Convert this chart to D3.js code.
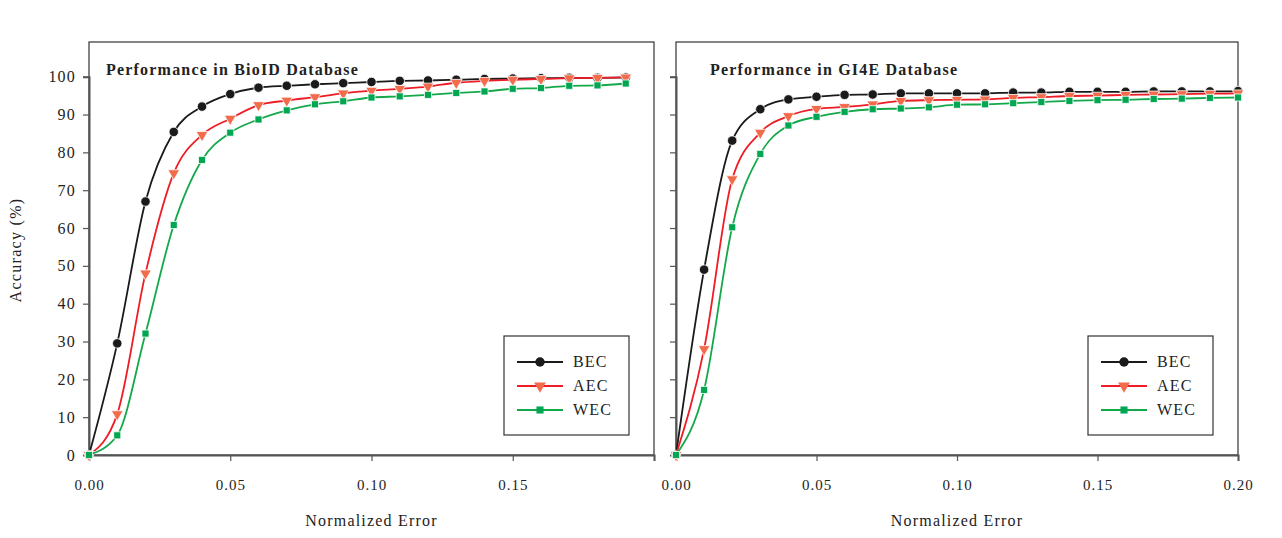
<!DOCTYPE html>
<html><head><meta charset="utf-8">
<script src="https://cdn.jsdelivr.net/npm/d3@7"></script>
<style>
body{margin:0;background:#fff;}
svg text{font-family:"Liberation Serif","DejaVu Serif",serif;}
</style></head>
<body><svg id="c" width="1282" height="538"></svg>
<script>
const errX = [0,0.01,0.02,0.03,0.04,0.05,0.06,0.07,0.08,0.09,0.10,0.11,0.12,0.13,0.14,0.15,0.16,0.17,0.18,0.19,0.20];
const bioBEC = [0,29.5,67.0,85.4,92.1,95.4,97.1,97.6,98.0,98.3,98.6,98.9,99.0,99.2,99.4,99.5,99.6,99.7,99.7,99.8];
const bioAEC = [0,10.8,48.0,74.5,84.6,88.9,92.5,93.7,94.6,95.6,96.3,96.8,97.4,98.4,98.9,99.2,99.4,99.6,99.7,99.8];
const bioWEC = [0,5.2,32.1,60.8,78.0,85.2,88.7,91.1,92.7,93.5,94.5,94.8,95.2,95.7,96.1,96.8,97.0,97.6,97.7,98.2];
const gi4eBEC = [0,49.0,83.1,91.4,94.0,94.7,95.2,95.3,95.6,95.6,95.6,95.6,95.8,95.8,96.0,96.0,96.0,96.1,96.1,96.1,96.2];
const gi4eAEC = [0,28.0,72.9,85.2,89.6,91.5,92.0,92.7,93.6,93.8,93.9,94.0,94.4,94.6,94.9,95.0,95.2,95.3,95.4,95.5,95.6];
const gi4eWEC = [0,17.2,60.2,79.6,87.1,89.4,90.7,91.4,91.6,91.9,92.6,92.7,93.0,93.3,93.6,93.8,93.9,94.1,94.2,94.4,94.5];
const xTicks = [0,0.05,0.10,0.15,0.20];
const yTicks = [0,10,20,30,40,50,60,70,80,90,100];
const seriesNames = ["BEC","AEC","WEC"];
const lineColors = ["#1a1a1a","#ee1c24","#13a84a"];
const markerColors = ["#1a1a1a","#f26b4b","#00a651"];
const markerShapes = [d3.symbolCircle, d3.symbolTriangle, d3.symbolSquare];
const markerSizes = [70,60,50];
const panels = [
  {title:"Performance in BioID Database", data:[bioBEC,bioAEC,bioWEC], x0:89, x1:654, showYLabels:true, xLabelTicks:[0,0.05,0.10,0.15], titleX:106},
  {title:"Performance in GI4E Database", data:[gi4eBEC,gi4eAEC,gi4eWEC], x0:676, x1:1238, showYLabels:false, xLabelTicks:xTicks, titleX:710}
];
const svg = d3.select("#c");
const yTop = 42, yBot = 455;
const y = d3.scaleLinear().domain([0,100]).range([yBot,76.7]);

panels.forEach(p=>{
  const x = d3.scaleLinear().domain([0,0.2]).range([p.x0,p.x1]);
  const g = svg.append("g");
  g.append("rect").attr("x",p.x0).attr("y",yTop).attr("width",p.x1-p.x0).attr("height",yBot-yTop)
    .attr("fill","none").attr("stroke","#333").attr("stroke-width",1.2);
  const ya = g.append("g").attr("transform",`translate(${p.x0},0)`)
    .call(d3.axisLeft(y).tickValues(yTicks).tickSize(6).tickPadding(7).tickFormat(p.showYLabels?d3.format("d"):""));
  ya.select(".domain").attr("stroke","#555").attr("stroke-width",2);
  ya.selectAll(".tick line").attr("stroke","#555").attr("stroke-width",1.2);
  ya.selectAll("text").attr("font-size",16).attr("fill","#222").attr("letter-spacing","1.2px")
    .attr("font-family","Liberation Serif, serif");
  const xa = g.append("g").attr("transform",`translate(0,${yBot})`)
    .call(d3.axisBottom(x).tickValues(xTicks).tickSize(6).tickPadding(18)
      .tickFormat(d=> p.xLabelTicks.includes(d)? d3.format(".2f")(d) : ""));
  xa.select(".domain").attr("stroke","#555").attr("stroke-width",2);
  xa.selectAll(".tick line").attr("stroke","#555").attr("stroke-width",1.2);
  xa.selectAll("text").attr("font-size",15).attr("fill","#222").attr("letter-spacing","1px")
    .attr("font-family","Liberation Serif, serif");
  g.append("text").attr("x",p.titleX).attr("y",75).attr("font-size",16).attr("font-weight","bold")
    .attr("letter-spacing","1.2px").attr("fill","#222").text(p.title);
  g.append("text").attr("x",(p.x0+p.x1)/2).attr("y",526).attr("text-anchor","middle")
    .attr("font-size",16).attr("letter-spacing","1.2px").attr("fill","#222").text("Normalized Error");
  const line = d3.line().x((d,i)=>x(errX[i])).y(d=>y(d)).curve(d3.curveMonotoneX);
  p.data.forEach((vals,si)=>{
    g.append("path").datum(vals).attr("d",line).attr("fill","none")
      .attr("stroke",lineColors[si]).attr("stroke-width",1.8);
    const sym = d3.symbol().type(markerShapes[si]).size(markerSizes[si]);
    g.selectAll(null).data(vals).enter().append("path")
      .attr("d",sym)
      .attr("transform",(d,i)=>`translate(${x(errX[i])},${y(d)})${si===1?" rotate(180)":""}`)
      .attr("fill",markerColors[si]).attr("stroke","#fff").attr("stroke-width",0.8);
  });
  const lx = p.x1-150, ly = 336;
  const lg = g.append("g");
  lg.append("rect").attr("x",lx).attr("y",ly).attr("width",125).attr("height",99)
    .attr("fill","#fff").attr("stroke","#333").attr("stroke-width",1.2);
  seriesNames.forEach((n,si)=>{
    const yy = ly+26+si*24;
    lg.append("line").attr("x1",lx+13).attr("x2",lx+59).attr("y1",yy).attr("y2",yy)
      .attr("stroke",lineColors[si]).attr("stroke-width",1.8);
    lg.append("path").attr("d",d3.symbol().type(markerShapes[si]).size(markerSizes[si]))
      .attr("transform",`translate(${lx+36},${yy})${si===1?" rotate(180)":""}`)
      .attr("fill",markerColors[si]);
    lg.append("text").attr("x",lx+69).attr("y",yy+5).attr("font-size",16).attr("letter-spacing","1.2px")
      .attr("fill","#222").text(n);
  });
});
svg.append("text").attr("transform","translate(21,250) rotate(-90)").attr("text-anchor","middle")
  .attr("font-size",16).attr("letter-spacing","1.3px").attr("fill","#222").text("Accuracy (%)");
</script></body></html>
